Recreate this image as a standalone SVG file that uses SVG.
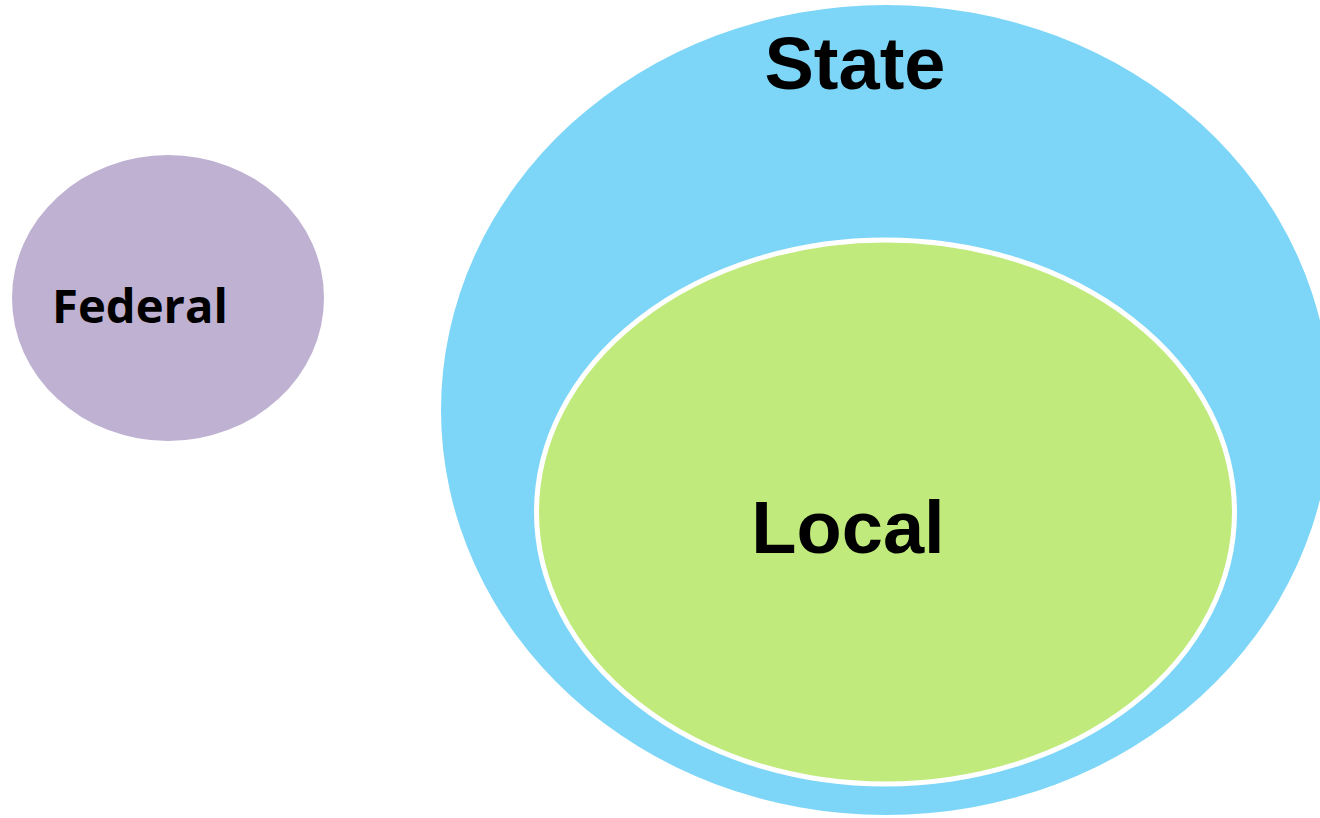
<svg xmlns="http://www.w3.org/2000/svg" width="1320" height="818" viewBox="0 0 1320 818">
<style>
.lbl{font-family:"Liberation Sans",Arial,sans-serif;font-weight:bold;fill:#000;text-anchor:middle}
.fed{font-family:"Open Sans","Noto Sans",sans-serif;font-weight:bold;fill:#000}
</style>
<rect width="1320" height="818" fill="#fff"/>
<g id="federal">
<ellipse cx="168" cy="298" rx="156" ry="143" fill="#bfb1d2"/>
<text class="fed" x="52" y="323" font-size="46" textLength="176" lengthAdjust="spacingAndGlyphs">Federal</text>
</g>
<g id="state">
<ellipse cx="886" cy="410" rx="445" ry="405" fill="#7dd6f7"/>
<text class="lbl" x="855" y="89" font-size="74">State</text>
</g>
<g id="local">
<ellipse cx="885.5" cy="512" rx="349" ry="272" fill="#c0ea7c" stroke="#fff" stroke-width="5"/>
<text class="lbl" x="848" y="553" font-size="74">Local</text>
</g>
<g id="connectors"/>
</svg>
